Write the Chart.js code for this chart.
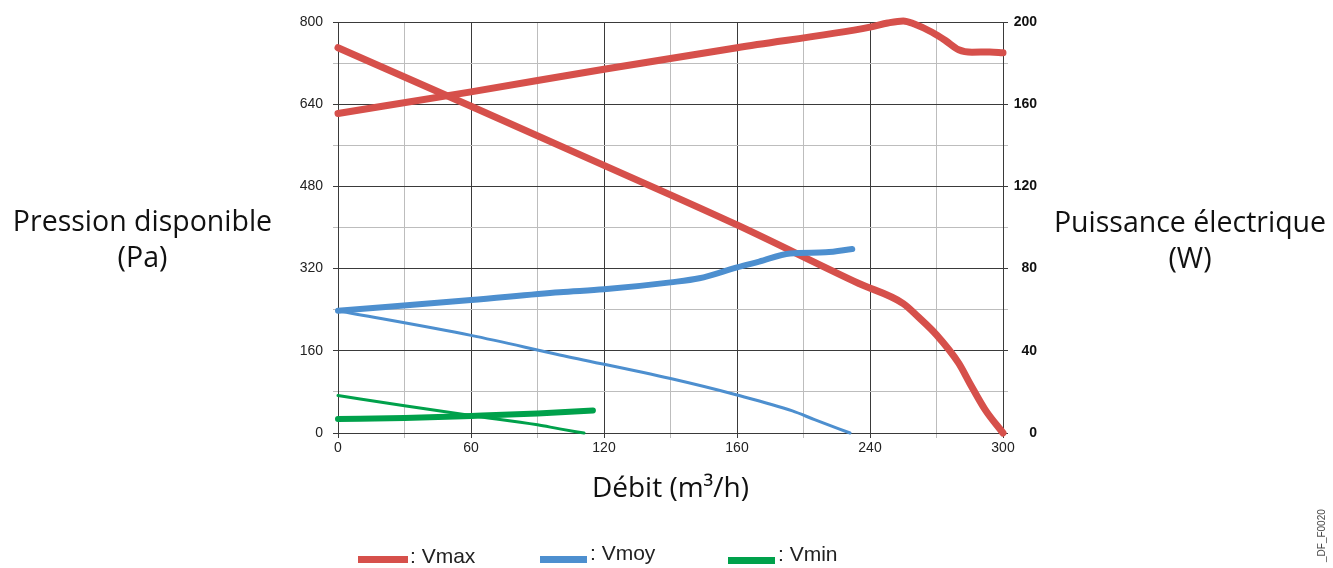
<!DOCTYPE html>
<html>
<head>
<meta charset="utf-8">
<script src="https://cdn.jsdelivr.net/npm/chart.js@4/dist/chart.umd.min.js"></script>
<style>
    body { margin: 0; background: #fff; }
    #wrap { position: relative; width: 1333px; height: 568px; overflow: hidden; }
    .title { position: absolute; font-family: "Open Sans", sans-serif; font-size: 28.5px; line-height: 36px; color: #111; text-align: center; }
    .leg-bar { position: absolute; height: 7px; }
    .leg-txt { position: absolute; font-family: "Liberation Sans", Arial, sans-serif; font-size: 21px; color: #222; }
    #code { position: absolute; left: 1316px; top: 562px; transform: rotate(-90deg); transform-origin: 0 0;
            font-family: "Liberation Sans", Arial, sans-serif; font-size: 10px; color: #444; white-space: nowrap; }
</style>
</head>
<body>
<div id="wrap">
    <canvas id="pumpChart" width="1333" height="568"></canvas>
    <div class="title" style="left:0; width:285px; top:202px;">Pression disponible<br>(Pa)</div>
    <div class="title" style="left:1045px; width:290px; top:203px;">Puissance électrique<br>(W)</div>
    <div class="leg-bar" style="left:358px; top:556px; width:50px; background:#d6504b;"></div>
    <div class="leg-txt" style="left:410px; top:544px;">: Vmax</div>
    <div class="leg-bar" style="left:540px; top:556px; width:47px; background:#4d8fcf;"></div>
    <div class="leg-txt" style="left:590px; top:541px;">: Vmoy</div>
    <div class="leg-bar" style="left:728px; top:557px; width:47px; background:#00a14b;"></div>
    <div class="leg-txt" style="left:778px; top:542px;">: Vmin</div>
    <div id="code">_DF_F0020</div>
</div>
<script>
// Tick labels (as printed on the original)
const xTickLabels = ['0', '60', '120', '160', '240', '300'];
const paTickLabels = ['0', '160', '320', '480', '640', '800'];
const wTickLabels = ['0', '40', '80', '120', '160', '200'];

// Vmax - pressure (Pa) and power (W)
const qMaxPa = [0, 60, 120, 180, 235, 255, 262, 270, 280, 285, 292, 300];
const paMax = [750, 636, 521, 405, 291, 252, 225, 191, 136, 97, 45, 0];
const qMaxW = [0, 60, 120, 180, 240, 248, 255, 260, 268, 274, 280, 286, 294, 300];
const wMax = [155.5, 166, 177, 187.5, 197.5, 199.5, 200.5, 199, 195, 191, 186.5, 185.3, 185.4, 185];

// Vmoy
const qMoyPa = [0, 60, 100, 150, 180, 205, 215, 231];
const paMoy = [238, 190, 152, 106, 74, 43, 26, 0];
const qMoyW = [0, 60, 100, 120, 150, 163, 180, 190, 204, 220, 232];
const wMoy = [59.5, 64.7, 68.5, 69.9, 73.3, 75.3, 80.6, 83.4, 87.4, 87.9, 89.5];

// Vmin
const qMinPa = [0, 30, 60, 90, 100, 111];
const paMin = [73, 53, 34, 16, 8, 0];
const qMinW = [0, 30, 60, 90, 115];
const wMin = [6.8, 7.3, 8.3, 9.5, 11];

const RED = '#d6504b';
const BLUE = '#4d8fcf';
const GREEN = '#00a14b';

function pts(xs, ys) {
    return xs.map((x, i) => ({ x: x, y: ys[i] }));
}

function line(label, xs, ys, color, width, axis) {
    return {
        label: label,
        data: pts(xs, ys),
        yAxisID: axis,
        borderColor: color,
        borderWidth: width,
        borderCapStyle: 'round',
        borderJoinStyle: 'round',
        pointRadius: 0,
        fill: false,
        tension: 0.4,
        cubicInterpolationMode: 'monotone',
        clip: 8
    };
}

const gridColor = (c) => (c.index % 2 ? '#bdbdbd' : '#3a3a3a');
const tickFont = { family: '"Liberation Sans", Arial, sans-serif', size: 14 };

const ctx = document.getElementById('pumpChart').getContext('2d');
const pumpChart = new Chart(ctx, {
    type: 'line',
    data: {
        datasets: [
            line('Vmin Pa', qMinPa, paMin, GREEN, 3, 'yPa'),
            line('Vmoy Pa', qMoyPa, paMoy, BLUE, 3, 'yPa'),
            line('Vmin W', qMinW, wMin, GREEN, 6, 'yW'),
            line('Vmoy W', qMoyW, wMoy, BLUE, 6, 'yW'),
            line('Vmax Pa', qMaxPa, paMax, RED, 7, 'yPa'),
            line('Vmax W', qMaxW, wMax, RED, 7, 'yW')
        ]
    },
    options: {
        responsive: false,
        animation: false,
        layout: { padding: { top: 22, bottom: 58, left: 0, right: 296 } },
        plugins: {
            legend: { display: false },
            tooltip: { enabled: false }
        },
        scales: {
            x: {
                type: 'linear',
                min: 0,
                max: 300,
                afterFit: (s) => { s.height = 77; },
                grid: { color: gridColor, tickLength: 5, lineWidth: 1 },
                border: { color: '#3a3a3a' },
                ticks: {
                    stepSize: 30,
                    autoSkip: false,
                    maxRotation: 0,
                    padding: 2,
                    color: '#222',
                    font: tickFont,
                    callback: (v, i) => (i % 2 ? '' : xTickLabels[i / 2])
                },
                title: {
                    display: true,
                    text: 'Débit (m³/h)',
                    color: '#111',
                    padding: { top: 0, bottom: 4 },
                    font: { family: '"Open Sans", sans-serif', size: 28 }
                }
            },
            yPa: {
                type: 'linear',
                position: 'left',
                min: 0,
                max: 800,
                afterFit: (s) => { s.width = 338; },
                grid: { color: gridColor, tickLength: 5 },
                border: { color: '#3a3a3a' },
                ticks: {
                    stepSize: 80,
                    autoSkip: false,
                    padding: 10,
                    color: '#222',
                    font: tickFont,
                    callback: (v, i) => (i % 2 ? '' : paTickLabels[i / 2])
                }
            },
            yW: {
                type: 'linear',
                position: 'right',
                min: 0,
                max: 200,
                afterFit: (s) => { s.width = 34; },
                grid: { drawOnChartArea: false, color: gridColor, tickLength: 5 },
                border: { color: '#3a3a3a' },
                ticks: {
                    stepSize: 20,
                    autoSkip: false,
                    padding: 5,
                    crossAlign: 'far',
                    color: '#111',
                    font: { family: '"Liberation Sans", Arial, sans-serif', size: 14, weight: 'bold' },
                    callback: (v, i) => (i % 2 ? '' : wTickLabels[i / 2])
                }
            }
        }
    }
});
</script>
</body>
</html>
